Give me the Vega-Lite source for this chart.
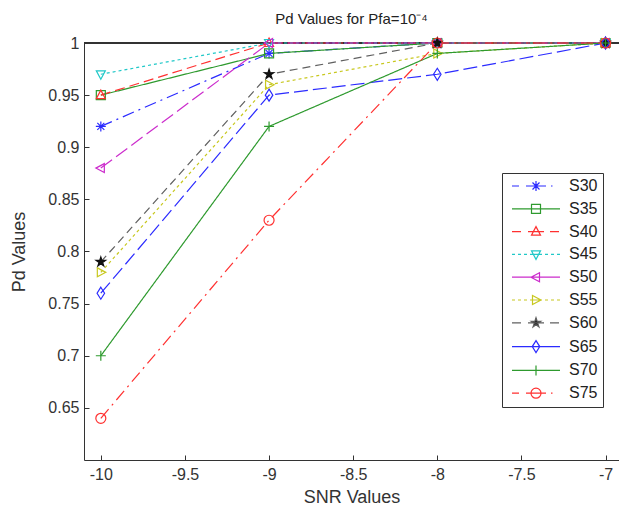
{
  "$schema": "https://vega.github.io/schema/vega-lite/v6.json",
  "autosize": "none",
  "width": 535,
  "height": 417,
  "padding": {"left": 84, "top": 43, "right": 0, "bottom": 50},
  "background": "white",
  "title": {"text": "Pd Values for Pfa=10⁻⁴", "font": "Liberation Sans", "fontSize": 15, "fontWeight": "normal", "color": "#222", "baseline": "alphabetic", "offset": 18, "dy": 22, "anchor": "middle"},
  "config": {
    "view": {"stroke": null},
    "axis": {"grid": false, "domainColor": "#333", "tickColor": "#333", "labelColor": "#333", "labelFont": "Liberation Sans", "labelFontSize": 16, "titleFont": "Liberation Sans", "titleFontSize": 18, "titleFontWeight": "normal", "titleColor": "#333", "tickSize": -5, "labelFlush": false, "labelOverlap": false}
  },
  "data": {"values": [
    {"s": "S30", "x": -10, "y": 0.92}, {"s": "S30", "x": -9, "y": 0.99}, {"s": "S30", "x": -8, "y": 1}, {"s": "S30", "x": -7, "y": 1},
    {"s": "S35", "x": -10, "y": 0.95}, {"s": "S35", "x": -9, "y": 0.99}, {"s": "S35", "x": -8, "y": 1}, {"s": "S35", "x": -7, "y": 1},
    {"s": "S40", "x": -10, "y": 0.95}, {"s": "S40", "x": -9, "y": 1}, {"s": "S40", "x": -8, "y": 1}, {"s": "S40", "x": -7, "y": 1},
    {"s": "S45", "x": -10, "y": 0.97}, {"s": "S45", "x": -9, "y": 1}, {"s": "S45", "x": -8, "y": 1}, {"s": "S45", "x": -7, "y": 1},
    {"s": "S50", "x": -10, "y": 0.88}, {"s": "S50", "x": -9, "y": 1}, {"s": "S50", "x": -8, "y": 1}, {"s": "S50", "x": -7, "y": 1},
    {"s": "S55", "x": -10, "y": 0.78}, {"s": "S55", "x": -9, "y": 0.96}, {"s": "S55", "x": -8, "y": 0.99}, {"s": "S55", "x": -7, "y": 1},
    {"s": "S60", "x": -10, "y": 0.79}, {"s": "S60", "x": -9, "y": 0.97}, {"s": "S60", "x": -8, "y": 1}, {"s": "S60", "x": -7, "y": 1},
    {"s": "S65", "x": -10, "y": 0.76}, {"s": "S65", "x": -9, "y": 0.95}, {"s": "S65", "x": -8, "y": 0.97}, {"s": "S65", "x": -7, "y": 1},
    {"s": "S70", "x": -10, "y": 0.70}, {"s": "S70", "x": -9, "y": 0.92}, {"s": "S70", "x": -8, "y": 0.99}, {"s": "S70", "x": -7, "y": 1},
    {"s": "S75", "x": -10, "y": 0.64}, {"s": "S75", "x": -9, "y": 0.83}, {"s": "S75", "x": -8, "y": 1}, {"s": "S75", "x": -7, "y": 1}
  ]},
  "encoding": {
    "x": {"field": "x", "type": "quantitative", "scale": {"domain": [-10.1, -6.92], "nice": false, "zero": false},
      "axis": {"values": [-10, -9.5, -9, -8.5, -8, -7.5, -7], "labelExpr": "'' + datum.value", "labelPadding": 11, "title": "SNR Values", "titlePadding": 6}},
    "y": {"field": "y", "type": "quantitative", "scale": {"domain": [0.6, 1], "nice": false, "zero": false},
      "axis": {"values": [0.65, 0.7, 0.75, 0.8, 0.85, 0.9, 0.95, 1], "labelExpr": "'' + datum.value", "labelPadding": 10, "title": "Pd Values", "titlePadding": 19}}
  },
  "layer": [
    {"mark": {"type": "rule", "color": "#333", "strokeWidth": 1}, "encoding": {"y": {"datum": 1}, "x": {"datum": -10.1}, "x2": {"datum": -6.92}}},
    {"mark": {"type": "line", "strokeWidth": 1.2},
      "encoding": {
        "color": {"field": "s", "type": "nominal",
          "scale": {"domain": ["S30","S35","S40","S45","S50","S55","S60","S65","S70","S75"],
                    "range": ["#2b2bff","#2e9a2e","#ff3030","#20c8c8","#cc2ccc","#c8c820","#606060","#2b2bff","#2e9a2e","#ff3030"]},
          "legend": {"title": null, "orient": "none", "legendX": 418, "legendY": 130, "padding": 5, "strokeColor": "#333", "fillColor": "white",
            "labelFont": "Liberation Sans", "labelFontSize": 16, "labelColor": "#222", "symbolSize": 100, "symbolStrokeWidth": 1.2,
            "symbolOffset": 21, "labelOffset": 25, "rowPadding": 6.8,
            "encode": {"symbols": {"update": {
              "shape": {"signal": "['M-4.8,0H-3.4M-2,0H2M3,0H3.3M-1,0H1M0,-1V1M-0.7,-0.7L0.7,0.7M-0.7,0.7L0.7,-0.7', 'M-4.8,0H4.8M-0.9,-0.9H0.9V0.9H-0.9Z', 'M-4.8,0H-3M-1.6,0H1.6M2.8,0H4.6M0,-1L0.9,0.7H-0.9Z', 'M-4.8,0H-4.2M-3.6,0H-3M-2.4,0H-1.8M-1.2,0H1.2M1.8,0H2.4M3,0H3.6M4.2,0H4.8M0,1L0.9,-0.7H-0.9Z', 'M-4.8,0H4.8M-1,0L0.7,-0.9V0.9Z', 'M-4.8,0H-4.2M-3.6,0H-3M-2.4,0H-1.8M-1.2,0H1.2M1.8,0H2.4M3,0H3.6M4.2,0H4.8M1,0L-0.7,-0.9V0.9Z', 'M-4.8,0H-3M-1.6,0H1.6M2.8,0H4.6M0,-1L0.223,-0.307L0.951,-0.309L0.361,0.117L0.588,0.809L0,0.38L-0.588,0.809L-0.361,0.117L-0.951,-0.309L-0.223,-0.307Z', 'M-4.8,0H4.8M0,-1.2L0.75,0L0,1.2L-0.75,0Z', 'M-4.8,0H4.8M0,-1V1', 'M-4.8,0H-3.4M-2,0H2M3,0H3.3M1,0A1,1 0 1,1 -1,0A1,1 0 1,1 1,0Z'][indexof(['S30','S35','S40','S45','S50','S55','S60','S65','S70','S75'], datum.value)]"},
              "fill": {"signal": "datum.value === 'S60' ? '#111' : 'transparent'"},
              "size": {"value": 100}
            }}}
          }},
        "strokeDash": {"field": "s", "type": "nominal", "legend": null,
          "scale": {"range": [[12,5,2,5],[1,0],[10,5],[3,3],[14,5],[3,3],[8,5],[14,5],[1,0],[12,5,2,5]]}}
      }},
    {"mark": {"type": "point", "size": 100, "strokeWidth": 1.2, "opacity": 1},
      "encoding": {
        "shape": {"field": "s", "type": "nominal", "legend": null,
          "scale": {"range": ["M-1,0H1M0,-1V1M-0.7,-0.7L0.7,0.7M-0.7,0.7L0.7,-0.7", "M-0.9,-0.9H0.9V0.9H-0.9Z", "M0,-1L0.9,0.7H-0.9Z", "M0,1L0.9,-0.7H-0.9Z", "M-1,0L0.7,-0.9V0.9Z", "M1,0L-0.7,-0.9V0.9Z", "M0,-1L0.223,-0.307L0.951,-0.309L0.361,0.117L0.588,0.809L0,0.38L-0.588,0.809L-0.361,0.117L-0.951,-0.309L-0.223,-0.307Z", "M0,-1.2L0.75,0L0,1.2L-0.75,0Z", "M-1,0H1M0,-1V1", "M1,0A1,1 0 1,1 -1,0A1,1 0 1,1 1,0Z"]}},
        "stroke": {"field": "s", "type": "nominal", "legend": null,
          "scale": {"range": ["#2b2bff","#2e9a2e","#ff3030","#20c8c8","#cc2ccc","#c8c820","#111111","#2b2bff","#2e9a2e","#ff3030"]}},
        "fill": {"field": "s", "type": "nominal", "legend": null,
          "scale": {"range": ["transparent","transparent","transparent","transparent","transparent","transparent","#111111","transparent","transparent","transparent"]}}
      }}
  ]
}
